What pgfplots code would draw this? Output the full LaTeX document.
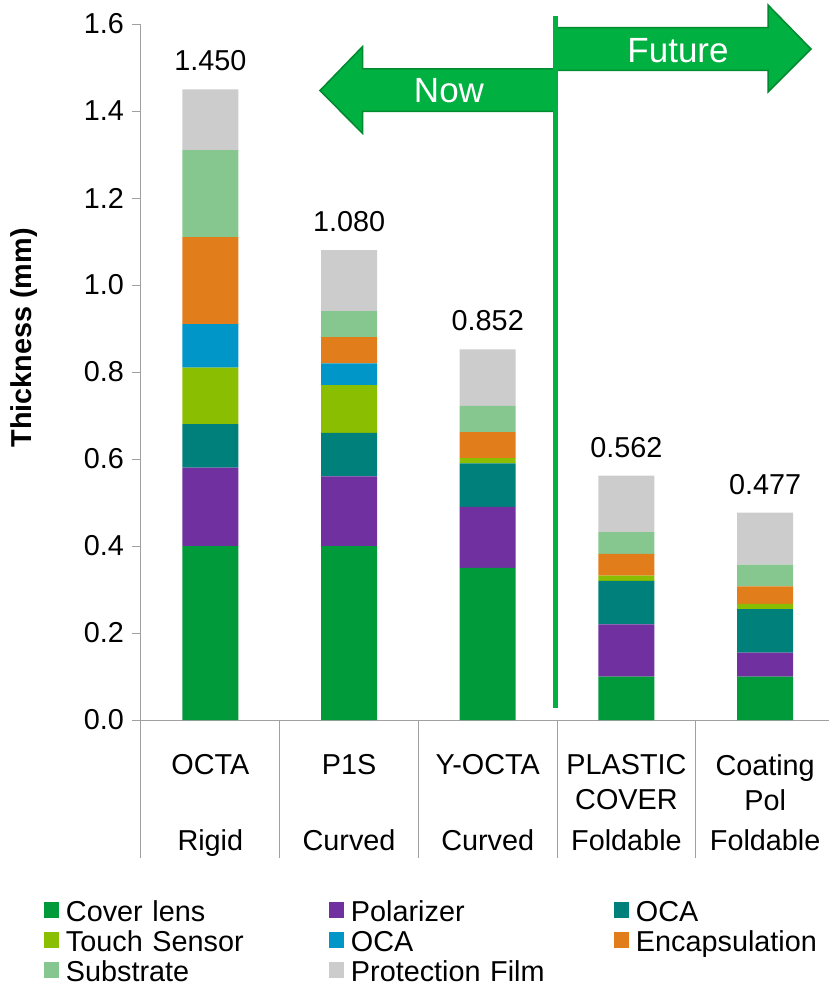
\documentclass[border=0pt]{standalone}
\usepackage{pgfplots}
\pgfplotsset{compat=1.18}
\usepackage{fontspec}
\setmainfont{Liberation Sans}

\definecolor{cCover}{RGB}{0,154,58}
\definecolor{cPol}{RGB}{112,48,160}
\definecolor{cOCA}{RGB}{0,128,122}
\definecolor{cTouch}{RGB}{138,190,0}
\definecolor{cOCAb}{RGB}{0,150,200}
\definecolor{cEnc}{RGB}{226,125,27}
\definecolor{cSub}{RGB}{134,199,143}
\definecolor{cProt}{RGB}{204,204,204}
\definecolor{cArrow}{RGB}{0,176,64}
\definecolor{cArrowEdge}{RGB}{0,138,48}
\definecolor{cAxis}{RGB}{160,160,160}

\newcommand{\chartfont}{\fontsize{28.8bp}{35bp}\selectfont}

\begin{document}
\begin{tikzpicture}
\begin{axis}[
  scale only axis,
  width=693.5bp, height=696bp,
  xmin=-0.5, xmax=4.5, ymin=0, ymax=1.6,
  clip=false,
  ybar stacked, bar width=56bp,
  axis x line*=bottom, axis y line*=left,
  axis line style={cAxis, line width=1bp},
  ytick={0,0.2,...,1.6},
  yticklabel style={/pgf/number format/fixed, /pgf/number format/fixed zerofill,
    /pgf/number format/precision=1, /pgf/number format/assume math mode=true,
    font=\chartfont, inner sep=0pt, xshift=-8bp},
  ytick style={cAxis, line width=1bp},
  tick align=outside, major tick length=9bp,
  xtick={0,1,2,3,4},
  xticklabels={OCTA, P1S, Y-OCTA, PLASTIC\\COVER, Coating\\Pol},
  x tick style={draw=none},
  xticklabel style={font=\chartfont, align=center, anchor=north, inner sep=0pt, yshift=-25bp},
  ylabel={Thickness (mm)},
  every axis y label/.style={at={(rel axis cs:-0.1687,0.549)}, rotate=90, anchor=center,
    font=\chartfont\bfseries},
  legend columns=3,
  legend image code/.code={\fill[#1,draw=none] (0bp,3bp) rectangle (15bp,19bp);},
  legend style={draw=none, fill=none, inner sep=0pt, outer sep=0pt,
    at={(rel axis cs:-0.13987,-0.2572)}, anchor=north west,
    cells={anchor=base west},
    nodes={inner sep=0pt, text width=263bp, text height=22bp, text depth=4bp,
      anchor=base west, font=\chartfont},
    /tikz/every odd column/.append style={column sep=7bp},
    row sep=4bp},
]
% layer stack, bottom to top
\addplot[fill=cCover, draw=none] coordinates {(0,0.40) (1,0.40) (2,0.35) (3,0.10) (4,0.10)};
\addlegendentry{Cover lens}
\addplot[fill=cPol, draw=none] coordinates {(0,0.18) (1,0.16) (2,0.14) (3,0.12) (4,0.055)};
\addlegendentry{Polarizer}
\addplot[fill=cOCA, draw=none] coordinates {(0,0.10) (1,0.10) (2,0.10) (3,0.10) (4,0.10)};
\addlegendentry{OCA}
\addplot[fill=cTouch, draw=none] coordinates {(0,0.13) (1,0.11) (2,0.012) (3,0.012) (4,0.012)};
\addlegendentry{Touch Sensor}
\addplot[fill=cOCAb, draw=none] coordinates {(0,0.10) (1,0.05) (2,0) (3,0) (4,0)};
\addlegendentry{OCA}
\addplot[fill=cEnc, draw=none] coordinates {(0,0.20) (1,0.06) (2,0.06) (3,0.05) (4,0.04)};
\addlegendentry{Encapsulation}
\addplot[fill=cSub, draw=none] coordinates {(0,0.20) (1,0.06) (2,0.06) (3,0.05) (4,0.05)};
\addlegendentry{Substrate}
\addplot[fill=cProt, draw=none] coordinates {(0,0.14) (1,0.14) (2,0.13) (3,0.13) (4,0.12)};
\addlegendentry{Protection Film}
% hairline cap carrying the total thickness labels
\addplot[draw=none, fill=none, point meta=explicit symbolic,
  nodes near coords,
  nodes near coords style={font=\chartfont, text=black, anchor=south, inner sep=0pt, yshift=18bp}]
  coordinates {(0,0.0001) [1.450] (1,0.0001) [1.080] (2,0.0001) [0.852] (3,0.0001) [0.562] (4,0.0001) [0.477]};

% category separators below the axis
\pgfplotsinvokeforeach{-0.5,0.5,1.5,2.5,3.5,4.5}{
  \draw[cAxis, line width=1bp] (axis cs:#1,0) -- ++(0bp,-138bp);
}
% second row of category labels
\node[font=\chartfont, anchor=base] at (axis cs:0,0) [yshift=-130bp] {Rigid};
\node[font=\chartfont, anchor=base] at (axis cs:1,0) [yshift=-130bp] {Curved};
\node[font=\chartfont, anchor=base] at (axis cs:2,0) [yshift=-130bp] {Curved};
\node[font=\chartfont, anchor=base] at (axis cs:3,0) [yshift=-130bp] {Foldable};
\node[font=\chartfont, anchor=base] at (axis cs:4,0) [yshift=-130bp] {Foldable};

% now / future divider
\draw[cArrow, line width=5bp] (axis cs:2.492,0.0276) -- (axis cs:2.492,1.6184);
% "Now" arrow pointing left
\draw[fill=cArrow, draw=cArrowEdge, line width=1.5bp, line join=miter]
  (axis cs:0.7906,1.4471) -- (axis cs:1.097,1.5480) -- (axis cs:1.097,1.4966)
  -- (axis cs:2.499,1.4966) -- (axis cs:2.499,1.3989) -- (axis cs:1.097,1.3989)
  -- (axis cs:1.097,1.3485) -- cycle;
% "Future" arrow pointing right
\draw[fill=cArrow, draw=cArrowEdge, line width=1.5bp, line join=miter]
  (axis cs:4.3306,1.5425) -- (axis cs:4.0206,1.6437) -- (axis cs:4.0206,1.5915)
  -- (axis cs:2.499,1.5915) -- (axis cs:2.499,1.4936) -- (axis cs:4.0206,1.4936)
  -- (axis cs:4.0206,1.4437) -- cycle;
\coordinate (nowc) at (axis cs:1.7206,1.447);
\coordinate (futc) at (axis cs:3.3717,1.5385);

\coordinate (bbl) at (axis cs:-1.5166,-0.6115);
\coordinate (btr) at (axis cs:4.4603,1.6552);
\end{axis}
\node[text=white, font=\fontsize{35bp}{40bp}\selectfont] at (nowc) {Now};
\node[text=white, font=\fontsize{35bp}{40bp}\selectfont] at (futc) {Future};
\pgfresetboundingbox
\path[use as bounding box] (bbl) rectangle (btr);
\end{tikzpicture}
\end{document}
